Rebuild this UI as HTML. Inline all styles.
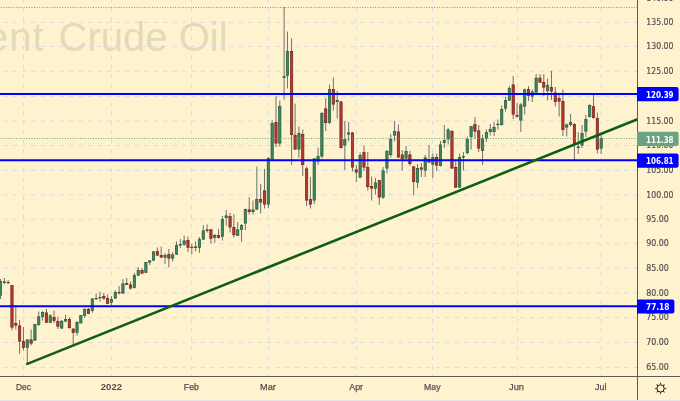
<!DOCTYPE html><html><head><meta charset="utf-8"><style>
html,body{margin:0;padding:0;background:#FFF2CF;overflow:hidden}
svg{display:block;will-change:transform}

</style></head><body>
<svg width="680" height="401" viewBox="0 0 680 401" font-family="Liberation Sans, Arial, sans-serif">
<rect x="0" y="0" width="680" height="401" fill="#FFF2CF"/>

<text x="-14.1" y="51.3" font-size="40" fill="#E3D9BB" letter-spacing="1">ent</text>
<text x="58.6" y="51.3" font-size="40" fill="#E3D9BB">Crude Oil</text>
<line x1="0" y1="367.5" x2="637" y2="367.5" stroke="#DADDE3" stroke-width="1" stroke-dasharray="4.2 5.205" stroke-dashoffset="6.205"/>
<line x1="0" y1="342.5" x2="637" y2="342.5" stroke="#DADDE3" stroke-width="1" stroke-dasharray="4.2 5.205" stroke-dashoffset="6.205"/>
<line x1="0" y1="317.6" x2="637" y2="317.6" stroke="#DADDE3" stroke-width="1" stroke-dasharray="4.2 5.205" stroke-dashoffset="6.205"/>
<line x1="0" y1="293.0" x2="637" y2="293.0" stroke="#DADDE3" stroke-width="1" stroke-dasharray="4.2 5.205" stroke-dashoffset="6.205"/>
<line x1="0" y1="268.3" x2="637" y2="268.3" stroke="#DADDE3" stroke-width="1" stroke-dasharray="4.2 5.205" stroke-dashoffset="6.205"/>
<line x1="0" y1="243.4" x2="637" y2="243.4" stroke="#DADDE3" stroke-width="1" stroke-dasharray="4.2 5.205" stroke-dashoffset="6.205"/>
<line x1="0" y1="219.4" x2="637" y2="219.4" stroke="#DADDE3" stroke-width="1" stroke-dasharray="4.2 5.205" stroke-dashoffset="6.205"/>
<line x1="0" y1="194.8" x2="637" y2="194.8" stroke="#DADDE3" stroke-width="1" stroke-dasharray="4.2 5.205" stroke-dashoffset="6.205"/>
<line x1="0" y1="170.3" x2="637" y2="170.3" stroke="#DADDE3" stroke-width="1" stroke-dasharray="4.2 5.205" stroke-dashoffset="6.205"/>
<line x1="0" y1="145.5" x2="637" y2="145.5" stroke="#DADDE3" stroke-width="1" stroke-dasharray="4.2 5.205" stroke-dashoffset="6.205"/>
<line x1="0" y1="120.9" x2="637" y2="120.9" stroke="#DADDE3" stroke-width="1" stroke-dasharray="4.2 5.205" stroke-dashoffset="6.205"/>
<line x1="0" y1="96.5" x2="637" y2="96.5" stroke="#DADDE3" stroke-width="1" stroke-dasharray="4.2 5.205" stroke-dashoffset="6.205"/>
<line x1="0" y1="71.3" x2="637" y2="71.3" stroke="#DADDE3" stroke-width="1" stroke-dasharray="4.2 5.205" stroke-dashoffset="6.205"/>
<line x1="0" y1="46.4" x2="637" y2="46.4" stroke="#DADDE3" stroke-width="1" stroke-dasharray="4.2 5.205" stroke-dashoffset="6.205"/>
<line x1="0" y1="22.4" x2="637" y2="22.4" stroke="#DADDE3" stroke-width="1" stroke-dasharray="4.2 5.205" stroke-dashoffset="6.205"/>
<line x1="0" y1="-2.2" x2="637" y2="-2.2" stroke="#DADDE3" stroke-width="1" stroke-dasharray="4.2 5.205" stroke-dashoffset="6.205"/>
<line x1="23.5" y1="0" x2="23.5" y2="376" stroke="#DADDE3" stroke-width="1" stroke-dasharray="4.2 5.205" stroke-dashoffset="1.4"/>
<line x1="111.5" y1="0" x2="111.5" y2="376" stroke="#DADDE3" stroke-width="1" stroke-dasharray="4.2 5.205" stroke-dashoffset="1.4"/>
<line x1="191.5" y1="0" x2="191.5" y2="376" stroke="#DADDE3" stroke-width="1" stroke-dasharray="4.2 5.205" stroke-dashoffset="1.4"/>
<line x1="268.5" y1="0" x2="268.5" y2="376" stroke="#DADDE3" stroke-width="1" stroke-dasharray="4.2 5.205" stroke-dashoffset="1.4"/>
<line x1="356.5" y1="0" x2="356.5" y2="376" stroke="#DADDE3" stroke-width="1" stroke-dasharray="4.2 5.205" stroke-dashoffset="1.4"/>
<line x1="432.5" y1="0" x2="432.5" y2="376" stroke="#DADDE3" stroke-width="1" stroke-dasharray="4.2 5.205" stroke-dashoffset="1.4"/>
<line x1="517.5" y1="0" x2="517.5" y2="376" stroke="#DADDE3" stroke-width="1" stroke-dasharray="4.2 5.205" stroke-dashoffset="1.4"/>
<line x1="600.9" y1="0" x2="600.9" y2="376" stroke="#DADDE3" stroke-width="1" stroke-dasharray="4.2 5.205" stroke-dashoffset="1.4"/>
<line x1="0" y1="7.5" x2="637" y2="7.5" stroke="#8A8E9C" stroke-width="1" stroke-dasharray="1 1.5641" stroke-dashoffset="1.8641"/>
<line x1="0.50" y1="279.0" x2="0.50" y2="299.0" stroke="#707070" stroke-width="1"/>
<rect x="-0.65" y="281.35" width="2.30" height="13.80" fill="#3E8660" stroke="#225C3C" stroke-width="0.7"/>
<line x1="4.33" y1="278.0" x2="4.33" y2="284.0" stroke="#707070" stroke-width="1"/>
<rect x="3.18" y="281.85" width="2.30" height="0.80" fill="#B63A2C" stroke="#72201A" stroke-width="0.7"/>
<line x1="8.15" y1="280.0" x2="8.15" y2="284.0" stroke="#707070" stroke-width="1"/>
<rect x="7.00" y="282.35" width="2.30" height="0.50" fill="#3E8660" stroke="#225C3C" stroke-width="0.7"/>
<line x1="11.98" y1="285.0" x2="11.98" y2="330.5" stroke="#707070" stroke-width="1"/>
<rect x="10.83" y="285.35" width="2.30" height="41.80" fill="#B63A2C" stroke="#72201A" stroke-width="0.7"/>
<line x1="15.80" y1="307.0" x2="15.80" y2="329.5" stroke="#707070" stroke-width="1"/>
<rect x="14.65" y="323.35" width="2.30" height="1.80" fill="#B63A2C" stroke="#72201A" stroke-width="0.7"/>
<line x1="19.63" y1="320.0" x2="19.63" y2="353.8" stroke="#707070" stroke-width="1"/>
<rect x="18.48" y="325.85" width="2.30" height="15.30" fill="#B63A2C" stroke="#72201A" stroke-width="0.7"/>
<line x1="23.46" y1="327.0" x2="23.46" y2="350.5" stroke="#707070" stroke-width="1"/>
<rect x="22.31" y="341.55" width="2.30" height="5.90" fill="#B63A2C" stroke="#72201A" stroke-width="0.7"/>
<line x1="27.28" y1="339.0" x2="27.28" y2="363.5" stroke="#707070" stroke-width="1"/>
<rect x="26.13" y="339.85" width="2.30" height="7.60" fill="#3E8660" stroke="#225C3C" stroke-width="0.7"/>
<line x1="31.11" y1="329.5" x2="31.11" y2="345.5" stroke="#707070" stroke-width="1"/>
<rect x="29.96" y="339.85" width="2.30" height="3.30" fill="#B63A2C" stroke="#72201A" stroke-width="0.7"/>
<line x1="34.93" y1="324.0" x2="34.93" y2="341.0" stroke="#707070" stroke-width="1"/>
<rect x="33.78" y="324.35" width="2.30" height="15.80" fill="#3E8660" stroke="#225C3C" stroke-width="0.7"/>
<line x1="38.76" y1="311.5" x2="38.76" y2="326.0" stroke="#707070" stroke-width="1"/>
<rect x="37.61" y="316.85" width="2.30" height="7.80" fill="#3E8660" stroke="#225C3C" stroke-width="0.7"/>
<line x1="42.59" y1="311.0" x2="42.59" y2="320.5" stroke="#707070" stroke-width="1"/>
<rect x="41.44" y="312.35" width="2.30" height="4.30" fill="#3E8660" stroke="#225C3C" stroke-width="0.7"/>
<line x1="46.41" y1="309.0" x2="46.41" y2="323.0" stroke="#707070" stroke-width="1"/>
<rect x="45.26" y="312.85" width="2.30" height="9.60" fill="#B63A2C" stroke="#72201A" stroke-width="0.7"/>
<line x1="50.24" y1="314.0" x2="50.24" y2="323.0" stroke="#707070" stroke-width="1"/>
<rect x="49.09" y="315.85" width="2.30" height="6.60" fill="#3E8660" stroke="#225C3C" stroke-width="0.7"/>
<line x1="54.06" y1="310.5" x2="54.06" y2="323.0" stroke="#707070" stroke-width="1"/>
<rect x="52.91" y="317.35" width="2.30" height="3.30" fill="#B63A2C" stroke="#72201A" stroke-width="0.7"/>
<line x1="57.89" y1="316.7" x2="57.89" y2="329.0" stroke="#707070" stroke-width="1"/>
<rect x="56.74" y="321.35" width="2.30" height="4.90" fill="#B63A2C" stroke="#72201A" stroke-width="0.7"/>
<line x1="61.72" y1="320.0" x2="61.72" y2="329.0" stroke="#707070" stroke-width="1"/>
<rect x="60.57" y="321.25" width="2.30" height="6.80" fill="#3E8660" stroke="#225C3C" stroke-width="0.7"/>
<line x1="65.54" y1="315.0" x2="65.54" y2="322.0" stroke="#707070" stroke-width="1"/>
<rect x="64.39" y="319.35" width="2.30" height="1.80" fill="#3E8660" stroke="#225C3C" stroke-width="0.7"/>
<line x1="69.37" y1="317.2" x2="69.37" y2="328.5" stroke="#707070" stroke-width="1"/>
<rect x="68.22" y="319.35" width="2.30" height="8.40" fill="#B63A2C" stroke="#72201A" stroke-width="0.7"/>
<line x1="73.19" y1="328.0" x2="73.19" y2="344.4" stroke="#707070" stroke-width="1"/>
<rect x="72.04" y="329.05" width="2.30" height="3.50" fill="#B63A2C" stroke="#72201A" stroke-width="0.7"/>
<line x1="77.02" y1="320.9" x2="77.02" y2="335.9" stroke="#707070" stroke-width="1"/>
<rect x="75.87" y="322.45" width="2.30" height="10.10" fill="#3E8660" stroke="#225C3C" stroke-width="0.7"/>
<line x1="80.85" y1="315.0" x2="80.85" y2="323.5" stroke="#707070" stroke-width="1"/>
<rect x="79.70" y="315.55" width="2.30" height="7.40" fill="#3E8660" stroke="#225C3C" stroke-width="0.7"/>
<line x1="84.67" y1="308.5" x2="84.67" y2="317.9" stroke="#707070" stroke-width="1"/>
<rect x="83.52" y="309.25" width="2.30" height="6.20" fill="#3E8660" stroke="#225C3C" stroke-width="0.7"/>
<line x1="88.50" y1="308.0" x2="88.50" y2="314.0" stroke="#707070" stroke-width="1"/>
<rect x="87.35" y="309.25" width="2.30" height="4.10" fill="#B63A2C" stroke="#72201A" stroke-width="0.7"/>
<line x1="92.32" y1="298.5" x2="92.32" y2="312.8" stroke="#707070" stroke-width="1"/>
<rect x="91.17" y="298.85" width="2.30" height="11.80" fill="#3E8660" stroke="#225C3C" stroke-width="0.7"/>
<line x1="96.15" y1="293.5" x2="96.15" y2="300.0" stroke="#707070" stroke-width="1"/>
<rect x="95.00" y="298.35" width="2.30" height="0.50" fill="#3E8660" stroke="#225C3C" stroke-width="0.7"/>
<line x1="99.98" y1="291.8" x2="99.98" y2="301.8" stroke="#707070" stroke-width="1"/>
<rect x="98.83" y="297.35" width="2.30" height="0.50" fill="#3E8660" stroke="#225C3C" stroke-width="0.7"/>
<line x1="103.80" y1="292.8" x2="103.80" y2="300.0" stroke="#707070" stroke-width="1"/>
<rect x="102.65" y="296.35" width="2.30" height="1.80" fill="#B63A2C" stroke="#72201A" stroke-width="0.7"/>
<line x1="107.63" y1="294.5" x2="107.63" y2="304.0" stroke="#707070" stroke-width="1"/>
<rect x="106.48" y="298.35" width="2.30" height="5.10" fill="#B63A2C" stroke="#72201A" stroke-width="0.7"/>
<line x1="111.45" y1="296.0" x2="111.45" y2="305.0" stroke="#707070" stroke-width="1"/>
<rect x="110.30" y="299.35" width="2.30" height="3.10" fill="#3E8660" stroke="#225C3C" stroke-width="0.7"/>
<line x1="115.28" y1="290.0" x2="115.28" y2="299.0" stroke="#707070" stroke-width="1"/>
<rect x="114.13" y="292.35" width="2.30" height="5.80" fill="#3E8660" stroke="#225C3C" stroke-width="0.7"/>
<line x1="119.11" y1="286.0" x2="119.11" y2="294.5" stroke="#707070" stroke-width="1"/>
<rect x="117.96" y="292.35" width="2.30" height="0.50" fill="#B63A2C" stroke="#72201A" stroke-width="0.7"/>
<line x1="122.93" y1="279.0" x2="122.93" y2="294.0" stroke="#707070" stroke-width="1"/>
<rect x="121.78" y="283.85" width="2.30" height="9.30" fill="#3E8660" stroke="#225C3C" stroke-width="0.7"/>
<line x1="126.76" y1="278.0" x2="126.76" y2="285.0" stroke="#707070" stroke-width="1"/>
<rect x="125.61" y="283.65" width="2.30" height="0.80" fill="#B63A2C" stroke="#72201A" stroke-width="0.7"/>
<line x1="130.58" y1="281.5" x2="130.58" y2="289.5" stroke="#707070" stroke-width="1"/>
<rect x="129.43" y="284.85" width="2.30" height="3.30" fill="#B63A2C" stroke="#72201A" stroke-width="0.7"/>
<line x1="134.41" y1="273.0" x2="134.41" y2="288.5" stroke="#707070" stroke-width="1"/>
<rect x="133.26" y="275.35" width="2.30" height="12.30" fill="#3E8660" stroke="#225C3C" stroke-width="0.7"/>
<line x1="138.24" y1="267.0" x2="138.24" y2="276.0" stroke="#707070" stroke-width="1"/>
<rect x="137.09" y="270.35" width="2.30" height="4.80" fill="#3E8660" stroke="#225C3C" stroke-width="0.7"/>
<line x1="142.06" y1="268.0" x2="142.06" y2="274.0" stroke="#707070" stroke-width="1"/>
<rect x="140.91" y="270.35" width="2.30" height="2.80" fill="#B63A2C" stroke="#72201A" stroke-width="0.7"/>
<line x1="145.89" y1="262.0" x2="145.89" y2="273.0" stroke="#707070" stroke-width="1"/>
<rect x="144.74" y="262.35" width="2.30" height="10.10" fill="#3E8660" stroke="#225C3C" stroke-width="0.7"/>
<line x1="149.71" y1="260.0" x2="149.71" y2="265.0" stroke="#707070" stroke-width="1"/>
<rect x="148.56" y="260.85" width="2.30" height="1.30" fill="#3E8660" stroke="#225C3C" stroke-width="0.7"/>
<line x1="153.54" y1="251.0" x2="153.54" y2="261.0" stroke="#707070" stroke-width="1"/>
<rect x="152.39" y="251.85" width="2.30" height="8.30" fill="#3E8660" stroke="#225C3C" stroke-width="0.7"/>
<line x1="157.37" y1="247.5" x2="157.37" y2="256.0" stroke="#707070" stroke-width="1"/>
<rect x="156.22" y="251.55" width="2.30" height="3.60" fill="#B63A2C" stroke="#72201A" stroke-width="0.7"/>
<line x1="161.19" y1="246.5" x2="161.19" y2="258.0" stroke="#707070" stroke-width="1"/>
<rect x="160.04" y="255.35" width="2.30" height="1.80" fill="#B63A2C" stroke="#72201A" stroke-width="0.7"/>
<line x1="165.02" y1="253.0" x2="165.02" y2="264.0" stroke="#707070" stroke-width="1"/>
<rect x="163.87" y="255.35" width="2.30" height="1.80" fill="#3E8660" stroke="#225C3C" stroke-width="0.7"/>
<line x1="168.84" y1="249.0" x2="168.84" y2="267.5" stroke="#707070" stroke-width="1"/>
<rect x="167.69" y="254.55" width="2.30" height="3.60" fill="#B63A2C" stroke="#72201A" stroke-width="0.7"/>
<line x1="172.67" y1="252.0" x2="172.67" y2="261.5" stroke="#707070" stroke-width="1"/>
<rect x="171.52" y="254.85" width="2.30" height="3.30" fill="#3E8660" stroke="#225C3C" stroke-width="0.7"/>
<line x1="176.50" y1="241.5" x2="176.50" y2="255.0" stroke="#707070" stroke-width="1"/>
<rect x="175.35" y="245.35" width="2.30" height="8.80" fill="#3E8660" stroke="#225C3C" stroke-width="0.7"/>
<line x1="180.32" y1="239.0" x2="180.32" y2="248.0" stroke="#707070" stroke-width="1"/>
<rect x="179.17" y="244.35" width="2.30" height="0.80" fill="#3E8660" stroke="#225C3C" stroke-width="0.7"/>
<line x1="184.15" y1="235.5" x2="184.15" y2="246.0" stroke="#707070" stroke-width="1"/>
<rect x="183.00" y="240.85" width="2.30" height="3.30" fill="#3E8660" stroke="#225C3C" stroke-width="0.7"/>
<line x1="187.97" y1="236.5" x2="187.97" y2="252.0" stroke="#707070" stroke-width="1"/>
<rect x="186.82" y="240.35" width="2.30" height="7.10" fill="#B63A2C" stroke="#72201A" stroke-width="0.7"/>
<line x1="191.80" y1="244.0" x2="191.80" y2="254.0" stroke="#707070" stroke-width="1"/>
<rect x="190.65" y="247.15" width="2.30" height="0.50" fill="#3E8660" stroke="#225C3C" stroke-width="0.7"/>
<line x1="195.63" y1="241.5" x2="195.63" y2="251.5" stroke="#707070" stroke-width="1"/>
<rect x="194.48" y="246.85" width="2.30" height="0.60" fill="#B63A2C" stroke="#72201A" stroke-width="0.7"/>
<line x1="199.45" y1="237.0" x2="199.45" y2="253.0" stroke="#707070" stroke-width="1"/>
<rect x="198.30" y="239.35" width="2.30" height="8.10" fill="#3E8660" stroke="#225C3C" stroke-width="0.7"/>
<line x1="203.28" y1="225.0" x2="203.28" y2="240.0" stroke="#707070" stroke-width="1"/>
<rect x="202.13" y="230.85" width="2.30" height="8.30" fill="#3E8660" stroke="#225C3C" stroke-width="0.7"/>
<line x1="207.10" y1="224.5" x2="207.10" y2="232.5" stroke="#707070" stroke-width="1"/>
<rect x="205.95" y="229.85" width="2.30" height="0.80" fill="#3E8660" stroke="#225C3C" stroke-width="0.7"/>
<line x1="210.93" y1="229.0" x2="210.93" y2="243.6" stroke="#707070" stroke-width="1"/>
<rect x="209.78" y="229.65" width="2.30" height="8.80" fill="#B63A2C" stroke="#72201A" stroke-width="0.7"/>
<line x1="214.76" y1="234.0" x2="214.76" y2="242.7" stroke="#707070" stroke-width="1"/>
<rect x="213.61" y="235.35" width="2.30" height="2.20" fill="#3E8660" stroke="#225C3C" stroke-width="0.7"/>
<line x1="218.58" y1="228.9" x2="218.58" y2="238.5" stroke="#707070" stroke-width="1"/>
<rect x="217.43" y="235.55" width="2.30" height="2.00" fill="#B63A2C" stroke="#72201A" stroke-width="0.7"/>
<line x1="222.41" y1="216.0" x2="222.41" y2="240.6" stroke="#707070" stroke-width="1"/>
<rect x="221.26" y="219.35" width="2.30" height="17.00" fill="#3E8660" stroke="#225C3C" stroke-width="0.7"/>
<line x1="226.23" y1="210.0" x2="226.23" y2="225.6" stroke="#707070" stroke-width="1"/>
<rect x="225.08" y="215.85" width="2.30" height="1.80" fill="#3E8660" stroke="#225C3C" stroke-width="0.7"/>
<line x1="230.06" y1="213.0" x2="230.06" y2="232.5" stroke="#707070" stroke-width="1"/>
<rect x="228.91" y="216.35" width="2.30" height="10.70" fill="#B63A2C" stroke="#72201A" stroke-width="0.7"/>
<line x1="233.89" y1="214.0" x2="233.89" y2="237.6" stroke="#707070" stroke-width="1"/>
<rect x="232.74" y="227.45" width="2.30" height="7.40" fill="#B63A2C" stroke="#72201A" stroke-width="0.7"/>
<line x1="237.71" y1="222.0" x2="237.71" y2="236.0" stroke="#707070" stroke-width="1"/>
<rect x="236.56" y="229.85" width="2.30" height="5.60" fill="#3E8660" stroke="#225C3C" stroke-width="0.7"/>
<line x1="241.54" y1="224.0" x2="241.54" y2="241.8" stroke="#707070" stroke-width="1"/>
<rect x="240.39" y="225.35" width="2.30" height="4.10" fill="#3E8660" stroke="#225C3C" stroke-width="0.7"/>
<line x1="245.36" y1="208.5" x2="245.36" y2="230.0" stroke="#707070" stroke-width="1"/>
<rect x="244.21" y="209.35" width="2.30" height="13.80" fill="#3E8660" stroke="#225C3C" stroke-width="0.7"/>
<line x1="249.19" y1="197.0" x2="249.19" y2="214.5" stroke="#707070" stroke-width="1"/>
<rect x="248.04" y="209.85" width="2.30" height="1.80" fill="#B63A2C" stroke="#72201A" stroke-width="0.7"/>
<line x1="253.02" y1="200.5" x2="253.02" y2="214.5" stroke="#707070" stroke-width="1"/>
<rect x="251.87" y="209.85" width="2.30" height="1.80" fill="#3E8660" stroke="#225C3C" stroke-width="0.7"/>
<line x1="256.84" y1="166.5" x2="256.84" y2="210.0" stroke="#707070" stroke-width="1"/>
<rect x="255.69" y="199.35" width="2.30" height="9.80" fill="#3E8660" stroke="#225C3C" stroke-width="0.7"/>
<line x1="260.67" y1="184.0" x2="260.67" y2="213.5" stroke="#707070" stroke-width="1"/>
<rect x="259.52" y="199.35" width="2.30" height="2.80" fill="#B63A2C" stroke="#72201A" stroke-width="0.7"/>
<line x1="264.49" y1="169.0" x2="264.49" y2="208.5" stroke="#707070" stroke-width="1"/>
<rect x="263.34" y="190.85" width="2.30" height="13.30" fill="#B63A2C" stroke="#72201A" stroke-width="0.7"/>
<line x1="268.32" y1="157.0" x2="268.32" y2="208.0" stroke="#707070" stroke-width="1"/>
<rect x="267.17" y="158.35" width="2.30" height="45.80" fill="#3E8660" stroke="#225C3C" stroke-width="0.7"/>
<line x1="272.15" y1="120.0" x2="272.15" y2="160.0" stroke="#707070" stroke-width="1"/>
<rect x="271.00" y="123.35" width="2.30" height="35.80" fill="#3E8660" stroke="#225C3C" stroke-width="0.7"/>
<line x1="275.97" y1="96.1" x2="275.97" y2="147.0" stroke="#707070" stroke-width="1"/>
<rect x="274.82" y="122.35" width="2.30" height="20.80" fill="#B63A2C" stroke="#72201A" stroke-width="0.7"/>
<line x1="279.80" y1="100.5" x2="279.80" y2="146.5" stroke="#707070" stroke-width="1"/>
<rect x="278.65" y="106.35" width="2.30" height="36.80" fill="#3E8660" stroke="#225C3C" stroke-width="0.7"/>
<line x1="284.10" y1="7.0" x2="284.10" y2="99.6" stroke="#707070" stroke-width="1"/>
<rect x="282.95" y="76.65" width="2.30" height="0.80" fill="#3E8660" stroke="#225C3C" stroke-width="0.7"/>
<line x1="287.45" y1="31.6" x2="287.45" y2="88.5" stroke="#707070" stroke-width="1"/>
<rect x="286.30" y="51.35" width="2.30" height="24.10" fill="#3E8660" stroke="#225C3C" stroke-width="0.7"/>
<line x1="291.60" y1="38.4" x2="291.60" y2="165.0" stroke="#707070" stroke-width="1"/>
<rect x="290.45" y="51.35" width="2.30" height="83.30" fill="#B63A2C" stroke="#72201A" stroke-width="0.7"/>
<line x1="295.10" y1="103.6" x2="295.10" y2="150.0" stroke="#707070" stroke-width="1"/>
<rect x="293.95" y="135.35" width="2.30" height="13.80" fill="#B63A2C" stroke="#72201A" stroke-width="0.7"/>
<line x1="298.93" y1="126.5" x2="298.93" y2="158.0" stroke="#707070" stroke-width="1"/>
<rect x="297.78" y="133.35" width="2.30" height="15.80" fill="#3E8660" stroke="#225C3C" stroke-width="0.7"/>
<line x1="302.75" y1="129.5" x2="302.75" y2="176.0" stroke="#707070" stroke-width="1"/>
<rect x="301.60" y="134.35" width="2.30" height="30.30" fill="#B63A2C" stroke="#72201A" stroke-width="0.7"/>
<line x1="306.58" y1="166.5" x2="306.58" y2="206.0" stroke="#707070" stroke-width="1"/>
<rect x="305.43" y="168.85" width="2.30" height="31.30" fill="#B63A2C" stroke="#72201A" stroke-width="0.7"/>
<line x1="310.41" y1="177.0" x2="310.41" y2="208.5" stroke="#707070" stroke-width="1"/>
<rect x="309.26" y="199.35" width="2.30" height="4.80" fill="#B63A2C" stroke="#72201A" stroke-width="0.7"/>
<line x1="314.23" y1="158.0" x2="314.23" y2="204.0" stroke="#707070" stroke-width="1"/>
<rect x="313.08" y="158.85" width="2.30" height="41.30" fill="#3E8660" stroke="#225C3C" stroke-width="0.7"/>
<line x1="318.06" y1="147.5" x2="318.06" y2="165.0" stroke="#707070" stroke-width="1"/>
<rect x="316.91" y="156.35" width="2.30" height="4.80" fill="#3E8660" stroke="#225C3C" stroke-width="0.7"/>
<line x1="321.88" y1="112.0" x2="321.88" y2="158.5" stroke="#707070" stroke-width="1"/>
<rect x="320.73" y="113.35" width="2.30" height="42.80" fill="#3E8660" stroke="#225C3C" stroke-width="0.7"/>
<line x1="325.71" y1="98.0" x2="325.71" y2="131.0" stroke="#707070" stroke-width="1"/>
<rect x="324.56" y="108.85" width="2.30" height="13.80" fill="#B63A2C" stroke="#72201A" stroke-width="0.7"/>
<line x1="329.54" y1="84.5" x2="329.54" y2="124.0" stroke="#707070" stroke-width="1"/>
<rect x="328.39" y="89.35" width="2.30" height="33.30" fill="#3E8660" stroke="#225C3C" stroke-width="0.7"/>
<line x1="333.36" y1="77.5" x2="333.36" y2="110.5" stroke="#707070" stroke-width="1"/>
<rect x="332.21" y="89.35" width="2.30" height="14.80" fill="#B63A2C" stroke="#72201A" stroke-width="0.7"/>
<line x1="337.19" y1="91.0" x2="337.19" y2="118.5" stroke="#707070" stroke-width="1"/>
<rect x="336.04" y="100.35" width="2.30" height="1.30" fill="#3E8660" stroke="#225C3C" stroke-width="0.7"/>
<line x1="341.01" y1="101.0" x2="341.01" y2="148.5" stroke="#707070" stroke-width="1"/>
<rect x="339.86" y="101.85" width="2.30" height="45.80" fill="#B63A2C" stroke="#72201A" stroke-width="0.7"/>
<line x1="344.84" y1="121.0" x2="344.84" y2="170.0" stroke="#707070" stroke-width="1"/>
<rect x="343.69" y="139.35" width="2.30" height="5.80" fill="#3E8660" stroke="#225C3C" stroke-width="0.7"/>
<line x1="348.67" y1="122.0" x2="348.67" y2="141.5" stroke="#707070" stroke-width="1"/>
<rect x="347.52" y="132.85" width="2.30" height="1.30" fill="#3E8660" stroke="#225C3C" stroke-width="0.7"/>
<line x1="352.49" y1="132.0" x2="352.49" y2="171.5" stroke="#707070" stroke-width="1"/>
<rect x="351.34" y="132.85" width="2.30" height="34.30" fill="#B63A2C" stroke="#72201A" stroke-width="0.7"/>
<line x1="356.32" y1="165.0" x2="356.32" y2="182.0" stroke="#707070" stroke-width="1"/>
<rect x="355.17" y="169.85" width="2.30" height="2.30" fill="#B63A2C" stroke="#72201A" stroke-width="0.7"/>
<line x1="360.14" y1="152.5" x2="360.14" y2="178.0" stroke="#707070" stroke-width="1"/>
<rect x="358.99" y="155.35" width="2.30" height="21.80" fill="#3E8660" stroke="#225C3C" stroke-width="0.7"/>
<line x1="363.97" y1="145.5" x2="363.97" y2="171.0" stroke="#707070" stroke-width="1"/>
<rect x="362.82" y="152.35" width="2.30" height="14.80" fill="#B63A2C" stroke="#72201A" stroke-width="0.7"/>
<line x1="367.80" y1="152.0" x2="367.80" y2="190.5" stroke="#707070" stroke-width="1"/>
<rect x="366.65" y="167.55" width="2.30" height="19.10" fill="#B63A2C" stroke="#72201A" stroke-width="0.7"/>
<line x1="371.62" y1="176.5" x2="371.62" y2="200.5" stroke="#707070" stroke-width="1"/>
<rect x="370.47" y="186.35" width="2.30" height="1.80" fill="#B63A2C" stroke="#72201A" stroke-width="0.7"/>
<line x1="375.45" y1="178.0" x2="375.45" y2="194.5" stroke="#707070" stroke-width="1"/>
<rect x="374.30" y="182.85" width="2.30" height="5.30" fill="#3E8660" stroke="#225C3C" stroke-width="0.7"/>
<line x1="379.27" y1="180.0" x2="379.27" y2="205.0" stroke="#707070" stroke-width="1"/>
<rect x="378.12" y="180.35" width="2.30" height="16.80" fill="#B63A2C" stroke="#72201A" stroke-width="0.7"/>
<line x1="383.10" y1="167.0" x2="383.10" y2="199.0" stroke="#707070" stroke-width="1"/>
<rect x="381.95" y="170.85" width="2.30" height="26.30" fill="#3E8660" stroke="#225C3C" stroke-width="0.7"/>
<line x1="386.93" y1="150.0" x2="386.93" y2="173.5" stroke="#707070" stroke-width="1"/>
<rect x="385.78" y="151.35" width="2.30" height="16.80" fill="#3E8660" stroke="#225C3C" stroke-width="0.7"/>
<line x1="390.75" y1="134.0" x2="390.75" y2="157.5" stroke="#707070" stroke-width="1"/>
<rect x="389.60" y="139.35" width="2.30" height="15.30" fill="#3E8660" stroke="#225C3C" stroke-width="0.7"/>
<line x1="394.58" y1="121.0" x2="394.58" y2="141.5" stroke="#707070" stroke-width="1"/>
<rect x="393.43" y="131.35" width="2.30" height="3.80" fill="#3E8660" stroke="#225C3C" stroke-width="0.7"/>
<line x1="398.40" y1="124.5" x2="398.40" y2="158.0" stroke="#707070" stroke-width="1"/>
<rect x="397.25" y="131.85" width="2.30" height="25.30" fill="#B63A2C" stroke="#72201A" stroke-width="0.7"/>
<line x1="402.23" y1="150.0" x2="402.23" y2="170.5" stroke="#707070" stroke-width="1"/>
<rect x="401.08" y="154.85" width="2.30" height="3.80" fill="#B63A2C" stroke="#72201A" stroke-width="0.7"/>
<line x1="406.06" y1="146.0" x2="406.06" y2="159.0" stroke="#707070" stroke-width="1"/>
<rect x="404.91" y="151.35" width="2.30" height="6.80" fill="#3E8660" stroke="#225C3C" stroke-width="0.7"/>
<line x1="409.88" y1="151.0" x2="409.88" y2="166.0" stroke="#707070" stroke-width="1"/>
<rect x="408.73" y="154.85" width="2.30" height="8.80" fill="#B63A2C" stroke="#72201A" stroke-width="0.7"/>
<line x1="413.71" y1="166.0" x2="413.71" y2="195.5" stroke="#707070" stroke-width="1"/>
<rect x="412.56" y="166.85" width="2.30" height="14.80" fill="#B63A2C" stroke="#72201A" stroke-width="0.7"/>
<line x1="417.53" y1="164.0" x2="417.53" y2="188.0" stroke="#707070" stroke-width="1"/>
<rect x="416.38" y="168.35" width="2.30" height="13.80" fill="#3E8660" stroke="#225C3C" stroke-width="0.7"/>
<line x1="421.36" y1="163.0" x2="421.36" y2="177.0" stroke="#707070" stroke-width="1"/>
<rect x="420.21" y="167.85" width="2.30" height="1.30" fill="#B63A2C" stroke="#72201A" stroke-width="0.7"/>
<line x1="425.19" y1="155.0" x2="425.19" y2="177.0" stroke="#707070" stroke-width="1"/>
<rect x="424.04" y="157.85" width="2.30" height="12.30" fill="#3E8660" stroke="#225C3C" stroke-width="0.7"/>
<line x1="429.01" y1="145.0" x2="429.01" y2="163.0" stroke="#707070" stroke-width="1"/>
<rect x="427.86" y="159.35" width="2.30" height="2.80" fill="#B63A2C" stroke="#72201A" stroke-width="0.7"/>
<line x1="432.84" y1="153.5" x2="432.84" y2="178.0" stroke="#707070" stroke-width="1"/>
<rect x="431.69" y="157.35" width="2.30" height="6.80" fill="#3E8660" stroke="#225C3C" stroke-width="0.7"/>
<line x1="436.66" y1="153.5" x2="436.66" y2="171.0" stroke="#707070" stroke-width="1"/>
<rect x="435.51" y="157.35" width="2.30" height="7.80" fill="#B63A2C" stroke="#72201A" stroke-width="0.7"/>
<line x1="440.49" y1="141.0" x2="440.49" y2="166.5" stroke="#707070" stroke-width="1"/>
<rect x="439.34" y="144.85" width="2.30" height="20.80" fill="#3E8660" stroke="#225C3C" stroke-width="0.7"/>
<line x1="444.32" y1="125.0" x2="444.32" y2="148.0" stroke="#707070" stroke-width="1"/>
<rect x="443.17" y="140.35" width="2.30" height="2.30" fill="#3E8660" stroke="#225C3C" stroke-width="0.7"/>
<line x1="448.14" y1="128.0" x2="448.14" y2="144.5" stroke="#707070" stroke-width="1"/>
<rect x="446.99" y="129.85" width="2.30" height="9.30" fill="#3E8660" stroke="#225C3C" stroke-width="0.7"/>
<line x1="451.97" y1="130.0" x2="451.97" y2="169.0" stroke="#707070" stroke-width="1"/>
<rect x="450.82" y="131.35" width="2.30" height="36.80" fill="#B63A2C" stroke="#72201A" stroke-width="0.7"/>
<line x1="455.79" y1="161.0" x2="455.79" y2="188.0" stroke="#707070" stroke-width="1"/>
<rect x="454.64" y="167.35" width="2.30" height="19.80" fill="#B63A2C" stroke="#72201A" stroke-width="0.7"/>
<line x1="459.62" y1="153.5" x2="459.62" y2="188.0" stroke="#707070" stroke-width="1"/>
<rect x="458.47" y="157.35" width="2.30" height="29.80" fill="#3E8660" stroke="#225C3C" stroke-width="0.7"/>
<line x1="463.45" y1="152.0" x2="463.45" y2="170.5" stroke="#707070" stroke-width="1"/>
<rect x="462.30" y="156.35" width="2.30" height="0.80" fill="#3E8660" stroke="#225C3C" stroke-width="0.7"/>
<line x1="467.27" y1="136.5" x2="467.27" y2="154.5" stroke="#707070" stroke-width="1"/>
<rect x="466.12" y="139.35" width="2.30" height="13.30" fill="#3E8660" stroke="#225C3C" stroke-width="0.7"/>
<line x1="471.10" y1="126.0" x2="471.10" y2="149.5" stroke="#707070" stroke-width="1"/>
<rect x="469.95" y="126.35" width="2.30" height="10.30" fill="#3E8660" stroke="#225C3C" stroke-width="0.7"/>
<line x1="474.92" y1="117.0" x2="474.92" y2="138.5" stroke="#707070" stroke-width="1"/>
<rect x="473.77" y="124.35" width="2.30" height="6.80" fill="#B63A2C" stroke="#72201A" stroke-width="0.7"/>
<line x1="478.75" y1="125.0" x2="478.75" y2="152.0" stroke="#707070" stroke-width="1"/>
<rect x="477.60" y="130.85" width="2.30" height="17.30" fill="#B63A2C" stroke="#72201A" stroke-width="0.7"/>
<line x1="482.58" y1="134.5" x2="482.58" y2="165.0" stroke="#707070" stroke-width="1"/>
<rect x="481.43" y="138.85" width="2.30" height="11.80" fill="#3E8660" stroke="#225C3C" stroke-width="0.7"/>
<line x1="486.40" y1="129.5" x2="486.40" y2="142.0" stroke="#707070" stroke-width="1"/>
<rect x="485.25" y="132.35" width="2.30" height="5.80" fill="#3E8660" stroke="#225C3C" stroke-width="0.7"/>
<line x1="490.23" y1="124.0" x2="490.23" y2="135.5" stroke="#707070" stroke-width="1"/>
<rect x="489.08" y="129.35" width="2.30" height="2.30" fill="#3E8660" stroke="#225C3C" stroke-width="0.7"/>
<line x1="494.05" y1="122.0" x2="494.05" y2="136.0" stroke="#707070" stroke-width="1"/>
<rect x="492.90" y="127.35" width="2.30" height="4.30" fill="#3E8660" stroke="#225C3C" stroke-width="0.7"/>
<line x1="497.88" y1="119.5" x2="497.88" y2="129.5" stroke="#707070" stroke-width="1"/>
<rect x="496.73" y="124.15" width="2.30" height="0.50" fill="#3E8660" stroke="#225C3C" stroke-width="0.7"/>
<line x1="501.71" y1="105.5" x2="501.71" y2="125.5" stroke="#707070" stroke-width="1"/>
<rect x="500.56" y="109.35" width="2.30" height="15.30" fill="#3E8660" stroke="#225C3C" stroke-width="0.7"/>
<line x1="505.53" y1="97.0" x2="505.53" y2="111.5" stroke="#707070" stroke-width="1"/>
<rect x="504.38" y="100.35" width="2.30" height="7.80" fill="#3E8660" stroke="#225C3C" stroke-width="0.7"/>
<line x1="509.36" y1="86.0" x2="509.36" y2="101.0" stroke="#707070" stroke-width="1"/>
<rect x="508.21" y="88.35" width="2.30" height="11.80" fill="#3E8660" stroke="#225C3C" stroke-width="0.7"/>
<line x1="513.18" y1="76.0" x2="513.18" y2="119.0" stroke="#707070" stroke-width="1"/>
<rect x="512.03" y="84.85" width="2.30" height="29.30" fill="#B63A2C" stroke="#72201A" stroke-width="0.7"/>
<line x1="517.01" y1="103.0" x2="517.01" y2="118.0" stroke="#707070" stroke-width="1"/>
<rect x="515.86" y="115.35" width="2.30" height="0.80" fill="#B63A2C" stroke="#72201A" stroke-width="0.7"/>
<line x1="520.84" y1="103.0" x2="520.84" y2="132.0" stroke="#707070" stroke-width="1"/>
<rect x="519.69" y="104.85" width="2.30" height="15.30" fill="#3E8660" stroke="#225C3C" stroke-width="0.7"/>
<line x1="524.66" y1="88.5" x2="524.66" y2="114.5" stroke="#707070" stroke-width="1"/>
<rect x="523.51" y="89.85" width="2.30" height="16.30" fill="#3E8660" stroke="#225C3C" stroke-width="0.7"/>
<line x1="528.49" y1="86.0" x2="528.49" y2="101.0" stroke="#707070" stroke-width="1"/>
<rect x="527.34" y="89.35" width="2.30" height="6.30" fill="#B63A2C" stroke="#72201A" stroke-width="0.7"/>
<line x1="532.31" y1="89.5" x2="532.31" y2="102.0" stroke="#707070" stroke-width="1"/>
<rect x="531.16" y="91.85" width="2.30" height="4.30" fill="#3E8660" stroke="#225C3C" stroke-width="0.7"/>
<line x1="536.14" y1="74.0" x2="536.14" y2="93.0" stroke="#707070" stroke-width="1"/>
<rect x="534.99" y="78.05" width="2.30" height="14.10" fill="#3E8660" stroke="#225C3C" stroke-width="0.7"/>
<line x1="539.97" y1="74.0" x2="539.97" y2="83.0" stroke="#707070" stroke-width="1"/>
<rect x="538.82" y="78.05" width="2.30" height="4.10" fill="#B63A2C" stroke="#72201A" stroke-width="0.7"/>
<line x1="543.79" y1="74.0" x2="543.79" y2="96.0" stroke="#707070" stroke-width="1"/>
<rect x="542.64" y="82.35" width="2.30" height="4.80" fill="#B63A2C" stroke="#72201A" stroke-width="0.7"/>
<line x1="547.62" y1="78.6" x2="547.62" y2="100.5" stroke="#707070" stroke-width="1"/>
<rect x="546.47" y="85.35" width="2.30" height="5.30" fill="#3E8660" stroke="#225C3C" stroke-width="0.7"/>
<line x1="551.44" y1="70.8" x2="551.44" y2="100.0" stroke="#707070" stroke-width="1"/>
<rect x="550.29" y="87.35" width="2.30" height="3.80" fill="#B63A2C" stroke="#72201A" stroke-width="0.7"/>
<line x1="555.27" y1="87.0" x2="555.27" y2="106.5" stroke="#707070" stroke-width="1"/>
<rect x="554.12" y="92.85" width="2.30" height="8.80" fill="#B63A2C" stroke="#72201A" stroke-width="0.7"/>
<line x1="559.10" y1="94.0" x2="559.10" y2="116.5" stroke="#707070" stroke-width="1"/>
<rect x="557.95" y="98.35" width="2.30" height="2.80" fill="#B63A2C" stroke="#72201A" stroke-width="0.7"/>
<line x1="562.92" y1="89.5" x2="562.92" y2="136.0" stroke="#707070" stroke-width="1"/>
<rect x="561.77" y="101.35" width="2.30" height="28.30" fill="#B63A2C" stroke="#72201A" stroke-width="0.7"/>
<line x1="566.75" y1="123.5" x2="566.75" y2="136.5" stroke="#707070" stroke-width="1"/>
<rect x="565.60" y="124.85" width="2.30" height="2.30" fill="#3E8660" stroke="#225C3C" stroke-width="0.7"/>
<line x1="570.57" y1="114.0" x2="570.57" y2="126.5" stroke="#707070" stroke-width="1"/>
<rect x="569.42" y="122.35" width="2.30" height="2.30" fill="#3E8660" stroke="#225C3C" stroke-width="0.7"/>
<line x1="574.40" y1="123.0" x2="574.40" y2="160.0" stroke="#707070" stroke-width="1"/>
<rect x="573.25" y="124.35" width="2.30" height="20.30" fill="#B63A2C" stroke="#72201A" stroke-width="0.7"/>
<line x1="578.23" y1="132.0" x2="578.23" y2="154.0" stroke="#707070" stroke-width="1"/>
<rect x="577.08" y="146.85" width="2.30" height="0.80" fill="#3E8660" stroke="#225C3C" stroke-width="0.7"/>
<line x1="582.05" y1="125.0" x2="582.05" y2="148.0" stroke="#707070" stroke-width="1"/>
<rect x="580.90" y="133.35" width="2.30" height="11.80" fill="#3E8660" stroke="#225C3C" stroke-width="0.7"/>
<line x1="585.88" y1="115.0" x2="585.88" y2="137.0" stroke="#707070" stroke-width="1"/>
<rect x="584.73" y="119.35" width="2.30" height="11.80" fill="#3E8660" stroke="#225C3C" stroke-width="0.7"/>
<line x1="589.70" y1="104.2" x2="589.70" y2="117.5" stroke="#707070" stroke-width="1"/>
<rect x="588.55" y="105.35" width="2.30" height="11.30" fill="#3E8660" stroke="#225C3C" stroke-width="0.7"/>
<line x1="593.53" y1="93.7" x2="593.53" y2="118.5" stroke="#707070" stroke-width="1"/>
<rect x="592.38" y="106.65" width="2.30" height="11.00" fill="#B63A2C" stroke="#72201A" stroke-width="0.7"/>
<line x1="597.36" y1="112.5" x2="597.36" y2="153.5" stroke="#707070" stroke-width="1"/>
<rect x="596.21" y="118.35" width="2.30" height="30.80" fill="#B63A2C" stroke="#72201A" stroke-width="0.7"/>
<line x1="601.18" y1="135.0" x2="601.18" y2="154.0" stroke="#707070" stroke-width="1"/>
<rect x="600.03" y="138.35" width="2.30" height="9.80" fill="#3E8660" stroke="#225C3C" stroke-width="0.7"/>
<line x1="0" y1="138.5" x2="637" y2="138.5" stroke="#6AA682" stroke-width="1" stroke-dasharray="1 1.5641" stroke-dashoffset="1.8641"/>
<line x1="0" y1="93.9" x2="637" y2="93.9" stroke="#0000FF" stroke-width="2"/>
<line x1="0" y1="160.3" x2="637" y2="160.3" stroke="#0000FF" stroke-width="2"/>
<line x1="0" y1="306.2" x2="637" y2="306.2" stroke="#0000FF" stroke-width="2"/>
<line x1="27.3" y1="363.9" x2="640" y2="118.2" stroke="#0F5F12" stroke-width="2.6" stroke-linecap="round"/>
<rect x="638" y="0" width="42" height="401" fill="#FFF2CF"/>
<rect x="0" y="377" width="680" height="24" fill="#FFF2CF"/>
<line x1="637.5" y1="0" x2="637.5" y2="400" stroke="#5A5A5A" stroke-width="1"/>
<line x1="0" y1="376.5" x2="680" y2="376.5" stroke="#5A5A5A" stroke-width="1"/>
<rect x="0" y="400" width="680" height="1" fill="#E1E3E8"/>
<text x="646.3" y="370.3" font-family="DejaVu Sans, Liberation Sans, sans-serif" font-size="9.5" fill="#4F4F4F" stroke="#4F4F4F" stroke-width="0.2" textLength="22.6" lengthAdjust="spacingAndGlyphs">65.00</text>
<text x="646.3" y="345.3" font-family="DejaVu Sans, Liberation Sans, sans-serif" font-size="9.5" fill="#4F4F4F" stroke="#4F4F4F" stroke-width="0.2" textLength="22.6" lengthAdjust="spacingAndGlyphs">70.00</text>
<text x="646.3" y="320.4" font-family="DejaVu Sans, Liberation Sans, sans-serif" font-size="9.5" fill="#4F4F4F" stroke="#4F4F4F" stroke-width="0.2" textLength="22.6" lengthAdjust="spacingAndGlyphs">75.00</text>
<text x="646.3" y="295.8" font-family="DejaVu Sans, Liberation Sans, sans-serif" font-size="9.5" fill="#4F4F4F" stroke="#4F4F4F" stroke-width="0.2" textLength="22.6" lengthAdjust="spacingAndGlyphs">80.00</text>
<text x="646.3" y="271.1" font-family="DejaVu Sans, Liberation Sans, sans-serif" font-size="9.5" fill="#4F4F4F" stroke="#4F4F4F" stroke-width="0.2" textLength="22.6" lengthAdjust="spacingAndGlyphs">85.00</text>
<text x="646.3" y="246.2" font-family="DejaVu Sans, Liberation Sans, sans-serif" font-size="9.5" fill="#4F4F4F" stroke="#4F4F4F" stroke-width="0.2" textLength="22.6" lengthAdjust="spacingAndGlyphs">90.00</text>
<text x="646.3" y="222.2" font-family="DejaVu Sans, Liberation Sans, sans-serif" font-size="9.5" fill="#4F4F4F" stroke="#4F4F4F" stroke-width="0.2" textLength="22.6" lengthAdjust="spacingAndGlyphs">95.00</text>
<text x="646.3" y="197.6" font-family="DejaVu Sans, Liberation Sans, sans-serif" font-size="9.5" fill="#4F4F4F" stroke="#4F4F4F" stroke-width="0.2" textLength="27.2" lengthAdjust="spacingAndGlyphs">100.00</text>
<text x="646.3" y="173.1" font-family="DejaVu Sans, Liberation Sans, sans-serif" font-size="9.5" fill="#4F4F4F" stroke="#4F4F4F" stroke-width="0.2" textLength="27.2" lengthAdjust="spacingAndGlyphs">105.00</text>
<text x="646.3" y="148.3" font-family="DejaVu Sans, Liberation Sans, sans-serif" font-size="9.5" fill="#4F4F4F" stroke="#4F4F4F" stroke-width="0.2" textLength="27.2" lengthAdjust="spacingAndGlyphs">110.00</text>
<text x="646.3" y="123.7" font-family="DejaVu Sans, Liberation Sans, sans-serif" font-size="9.5" fill="#4F4F4F" stroke="#4F4F4F" stroke-width="0.2" textLength="27.2" lengthAdjust="spacingAndGlyphs">115.00</text>
<text x="646.3" y="99.3" font-family="DejaVu Sans, Liberation Sans, sans-serif" font-size="9.5" fill="#4F4F4F" stroke="#4F4F4F" stroke-width="0.2" textLength="27.2" lengthAdjust="spacingAndGlyphs">120.00</text>
<text x="646.3" y="74.1" font-family="DejaVu Sans, Liberation Sans, sans-serif" font-size="9.5" fill="#4F4F4F" stroke="#4F4F4F" stroke-width="0.2" textLength="27.2" lengthAdjust="spacingAndGlyphs">125.00</text>
<text x="646.3" y="49.2" font-family="DejaVu Sans, Liberation Sans, sans-serif" font-size="9.5" fill="#4F4F4F" stroke="#4F4F4F" stroke-width="0.2" textLength="27.2" lengthAdjust="spacingAndGlyphs">130.00</text>
<text x="646.3" y="25.2" font-family="DejaVu Sans, Liberation Sans, sans-serif" font-size="9.5" fill="#4F4F4F" stroke="#4F4F4F" stroke-width="0.2" textLength="27.2" lengthAdjust="spacingAndGlyphs">135.00</text>
<text x="646.3" y="0.6" font-family="DejaVu Sans, Liberation Sans, sans-serif" font-size="9.5" fill="#4F4F4F" stroke="#4F4F4F" stroke-width="0.2" textLength="27.2" lengthAdjust="spacingAndGlyphs">140.00</text>
<path d="M637 131.80 H676.50 Q678.6 131.80 678.6 133.90 V143.90 Q678.6 146.00 676.50 146.00 H637 Z" fill="#6AA382"/>
<text x="646.0" y="142.5" font-family="DejaVu Sans, Liberation Sans, sans-serif" font-weight="bold" font-size="9.2" fill="#fff" textLength="27.6" lengthAdjust="spacingAndGlyphs">111.38</text>
<path d="M637 87.10 H676.50 Q678.6 87.10 678.6 89.20 V99.20 Q678.6 101.30 676.50 101.30 H637 Z" fill="#0000FF"/>
<text x="646.0" y="97.8" font-family="DejaVu Sans, Liberation Sans, sans-serif" font-weight="bold" font-size="9.2" fill="#fff" textLength="27.6" lengthAdjust="spacingAndGlyphs">120.39</text>
<path d="M637 153.55 H676.50 Q678.6 153.55 678.6 155.65 V165.65 Q678.6 167.75 676.50 167.75 H637 Z" fill="#0000FF"/>
<text x="646.0" y="164.2" font-family="DejaVu Sans, Liberation Sans, sans-serif" font-weight="bold" font-size="9.2" fill="#fff" textLength="27.6" lengthAdjust="spacingAndGlyphs">106.81</text>
<path d="M637 299.40 H672.30 Q674.4 299.40 674.4 301.50 V311.50 Q674.4 313.60 672.30 313.60 H637 Z" fill="#0000FF"/>
<text x="646.0" y="310.1" font-family="DejaVu Sans, Liberation Sans, sans-serif" font-weight="bold" font-size="9.2" fill="#fff" textLength="23.4" lengthAdjust="spacingAndGlyphs">77.18</text>
<text x="15.9" y="390.4" font-size="9.8" fill="#4F4F4F" stroke="#4F4F4F" stroke-width="0.25" textLength="15" lengthAdjust="spacingAndGlyphs">Dec</text>
<text x="100.8" y="390.4" font-size="9.8" fill="#4F4F4F" stroke="#4F4F4F" stroke-width="0" textLength="21.2" lengthAdjust="spacingAndGlyphs" font-weight="bold">2022</text>
<text x="183.8" y="390.4" font-size="9.8" fill="#4F4F4F" stroke="#4F4F4F" stroke-width="0.25" textLength="15.2" lengthAdjust="spacingAndGlyphs">Feb</text>
<text x="260.1" y="390.4" font-size="9.8" fill="#4F4F4F" stroke="#4F4F4F" stroke-width="0.25" textLength="15.8" lengthAdjust="spacingAndGlyphs">Mar</text>
<text x="349.3" y="390.4" font-size="9.8" fill="#4F4F4F" stroke="#4F4F4F" stroke-width="0.25" textLength="13.7" lengthAdjust="spacingAndGlyphs">Apr</text>
<text x="424.1" y="390.4" font-size="9.8" fill="#4F4F4F" stroke="#4F4F4F" stroke-width="0.25" textLength="16.5" lengthAdjust="spacingAndGlyphs">May</text>
<text x="509.1" y="390.4" font-size="9.8" fill="#4F4F4F" stroke="#4F4F4F" stroke-width="0.25" textLength="14.9" lengthAdjust="spacingAndGlyphs">Jun</text>
<text x="595.0" y="390.4" font-size="9.8" fill="#4F4F4F" stroke="#4F4F4F" stroke-width="0.25" textLength="11.4" lengthAdjust="spacingAndGlyphs">Jul</text>
<g transform="translate(660.6,388.4)"><g fill="#1E1E1E"><polygon points="3.90,0.75 6.30,0.00 3.90,-0.75"/><polygon points="2.23,3.29 4.45,4.45 3.29,2.23"/><polygon points="-0.75,3.90 0.00,6.30 0.75,3.90"/><polygon points="-3.29,2.23 -4.45,4.45 -2.23,3.29"/><polygon points="-3.90,-0.75 -6.30,0.00 -3.90,0.75"/><polygon points="-2.23,-3.29 -4.45,-4.45 -3.29,-2.23"/><polygon points="0.75,-3.90 -0.00,-6.30 -0.75,-3.90"/><polygon points="3.29,-2.23 4.45,-4.45 2.23,-3.29"/></g><circle r="3.6" fill="#FFF2CF" stroke="#1E1E1E" stroke-width="1.0"/></g>
</svg></body></html>
